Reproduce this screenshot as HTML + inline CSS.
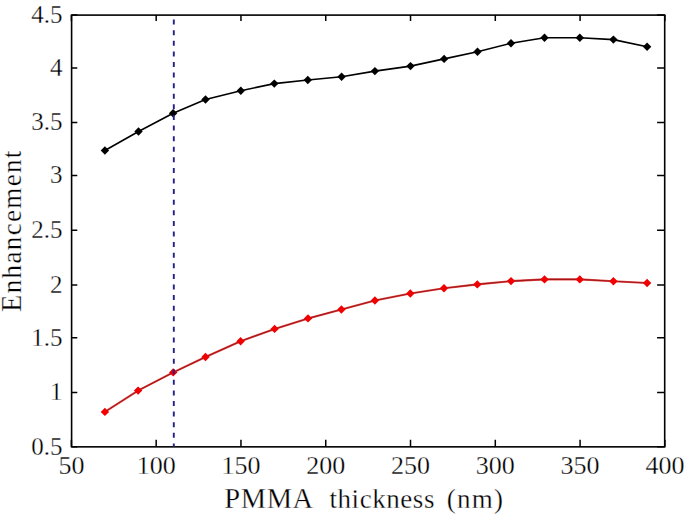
<!DOCTYPE html>
<html><head><meta charset="utf-8"><style>
html,body{margin:0;padding:0;background:#fff;}
body{width:685px;height:517px;position:relative;overflow:hidden;font-family:"Liberation Serif",serif;color:#000;}
.xt,.yt,.xl,.yl{-webkit-text-stroke:0.3px #fff;}
svg{position:absolute;left:0;top:0;}
.xt{position:absolute;top:451.6px;width:80px;text-align:center;font-size:26px;line-height:28px;}
.yt{position:absolute;left:0;width:62.6px;text-align:right;font-size:25px;line-height:28px;}
.xl{position:absolute;top:483.6px;font-size:28.5px;line-height:30px;white-space:nowrap;}
.xs{font-size:27px;}
.yl{position:absolute;font-size:27px;letter-spacing:1.35px;line-height:30px;white-space:nowrap;transform-origin:0 0;transform:rotate(-90deg);}
</style></head><body>
<svg width="685" height="517" viewBox="0 0 685 517">
<rect x="71.6" y="15.1" width="593.10" height="431.75" fill="none" stroke="#000" stroke-width="1.6"/>
<path d="M71.40 446.85V439.65M71.40 15.1V20.90M156.18 446.85V439.65M156.18 15.1V20.90M240.96 446.85V439.65M240.96 15.1V20.90M325.74 446.85V439.65M325.74 15.1V20.90M410.52 446.85V439.65M410.52 15.1V20.90M495.30 446.85V439.65M495.30 15.1V20.90M580.08 446.85V439.65M580.08 15.1V20.90M664.86 446.85V439.65M664.86 15.1V20.90M71.6 446.85H77.30M664.7 446.85H657.10M71.6 392.40H77.30M664.7 392.40H657.10M71.6 337.80H77.30M664.7 337.80H657.10M71.6 284.90H77.30M664.7 284.90H657.10M71.6 230.20H77.30M664.7 230.20H657.10M71.6 175.40H77.30M664.7 175.40H657.10M71.6 122.40H77.30M664.7 122.40H657.10M71.6 67.90H77.30M664.7 67.90H657.10M71.6 15.10H77.30M664.7 15.10H657.10" stroke="#000" stroke-width="1.5"/>
<path d="M104.90 150.50L138.50 131.50L173.10 113.20L205.50 99.50L240.80 90.70L274.30 83.60L307.80 80.00L341.60 76.70L374.90 71.10L410.50 66.10L444.10 58.90L477.50 51.80L511.00 43.20L544.50 37.70L579.80 37.70L613.40 39.60L647.10 46.80" fill="none" stroke="#000" stroke-width="1.6" stroke-linejoin="round"/>
<path d="M104.90 146.30L109.10 150.50L104.90 154.70L100.70 150.50Z" fill="#000"/><path d="M138.50 127.30L142.70 131.50L138.50 135.70L134.30 131.50Z" fill="#000"/><path d="M173.10 109.00L177.30 113.20L173.10 117.40L168.90 113.20Z" fill="#000"/><path d="M205.50 95.30L209.70 99.50L205.50 103.70L201.30 99.50Z" fill="#000"/><path d="M240.80 86.50L245.00 90.70L240.80 94.90L236.60 90.70Z" fill="#000"/><path d="M274.30 79.40L278.50 83.60L274.30 87.80L270.10 83.60Z" fill="#000"/><path d="M307.80 75.80L312.00 80.00L307.80 84.20L303.60 80.00Z" fill="#000"/><path d="M341.60 72.50L345.80 76.70L341.60 80.90L337.40 76.70Z" fill="#000"/><path d="M374.90 66.90L379.10 71.10L374.90 75.30L370.70 71.10Z" fill="#000"/><path d="M410.50 61.90L414.70 66.10L410.50 70.30L406.30 66.10Z" fill="#000"/><path d="M444.10 54.70L448.30 58.90L444.10 63.10L439.90 58.90Z" fill="#000"/><path d="M477.50 47.60L481.70 51.80L477.50 56.00L473.30 51.80Z" fill="#000"/><path d="M511.00 39.00L515.20 43.20L511.00 47.40L506.80 43.20Z" fill="#000"/><path d="M544.50 33.50L548.70 37.70L544.50 41.90L540.30 37.70Z" fill="#000"/><path d="M579.80 33.50L584.00 37.70L579.80 41.90L575.60 37.70Z" fill="#000"/><path d="M613.40 35.40L617.60 39.60L613.40 43.80L609.20 39.60Z" fill="#000"/><path d="M647.10 42.60L651.30 46.80L647.10 51.00L642.90 46.80Z" fill="#000"/>
<path d="M104.90 411.90L138.10 390.60L173.20 372.40L205.50 357.00L240.60 341.30L274.60 328.90L308.00 318.40L341.40 309.50L374.90 300.50L410.30 293.50L444.00 288.20L477.30 284.40L511.00 281.10L544.50 279.40L579.80 279.40L613.40 281.30L647.10 283.00" fill="none" stroke="#e84848" stroke-width="2.1" stroke-linejoin="round"/>
<path d="M104.90 411.90L138.10 390.60L173.20 372.40L205.50 357.00L240.60 341.30L274.60 328.90L308.00 318.40L341.40 309.50L374.90 300.50L410.30 293.50L444.00 288.20L477.30 284.40L511.00 281.10L544.50 279.40L579.80 279.40L613.40 281.30L647.10 283.00" fill="none" stroke="#a01818" stroke-width="1.1" stroke-linejoin="round"/>
<path d="M104.90 407.70L109.10 411.90L104.90 416.10L100.70 411.90Z" fill="#f00000"/><path d="M138.10 386.40L142.30 390.60L138.10 394.80L133.90 390.60Z" fill="#f00000"/><path d="M173.20 368.20L177.40 372.40L173.20 376.60L169.00 372.40Z" fill="#f00000"/><path d="M205.50 352.80L209.70 357.00L205.50 361.20L201.30 357.00Z" fill="#f00000"/><path d="M240.60 337.10L244.80 341.30L240.60 345.50L236.40 341.30Z" fill="#f00000"/><path d="M274.60 324.70L278.80 328.90L274.60 333.10L270.40 328.90Z" fill="#f00000"/><path d="M308.00 314.20L312.20 318.40L308.00 322.60L303.80 318.40Z" fill="#f00000"/><path d="M341.40 305.30L345.60 309.50L341.40 313.70L337.20 309.50Z" fill="#f00000"/><path d="M374.90 296.30L379.10 300.50L374.90 304.70L370.70 300.50Z" fill="#f00000"/><path d="M410.30 289.30L414.50 293.50L410.30 297.70L406.10 293.50Z" fill="#f00000"/><path d="M444.00 284.00L448.20 288.20L444.00 292.40L439.80 288.20Z" fill="#f00000"/><path d="M477.30 280.20L481.50 284.40L477.30 288.60L473.10 284.40Z" fill="#f00000"/><path d="M511.00 276.90L515.20 281.10L511.00 285.30L506.80 281.10Z" fill="#f00000"/><path d="M544.50 275.20L548.70 279.40L544.50 283.60L540.30 279.40Z" fill="#f00000"/><path d="M579.80 275.20L584.00 279.40L579.80 283.60L575.60 279.40Z" fill="#f00000"/><path d="M613.40 277.10L617.60 281.30L613.40 285.50L609.20 281.30Z" fill="#f00000"/><path d="M647.10 278.80L651.30 283.00L647.10 287.20L642.90 283.00Z" fill="#f00000"/>
<path d="M173.8 19.60V24.60M173.8 30.20V35.20M173.8 40.79V45.79M173.8 51.39V56.39M173.8 61.98V66.98M173.8 72.58V77.58M173.8 83.17V88.17M173.8 93.77V98.77M173.8 104.36V109.36M173.8 114.96V119.96M173.8 125.55V130.55M173.8 136.15V141.15M173.8 146.74V151.74M173.8 157.34V162.34M173.8 167.93V172.93M173.8 178.53V183.53M173.8 189.12V194.12M173.8 199.72V204.72M173.8 210.31V215.31M173.8 220.91V225.91M173.8 231.50V236.50M173.8 242.09V247.09M173.8 252.69V257.69M173.8 263.29V268.29M173.8 273.88V278.88M173.8 284.48V289.48M173.8 295.07V300.07M173.8 305.67V310.67M173.8 316.26V321.26M173.8 326.86V331.86M173.8 337.45V342.45M173.8 348.05V353.05M173.8 358.64V363.64M173.8 369.24V374.24M173.8 379.83V384.83M173.8 390.43V395.43M173.8 401.02V406.02M173.8 411.62V416.62M173.8 422.21V427.21M173.8 432.81V437.81M173.8 443.40V446.85" stroke="#24208a" stroke-width="1.9"/>
</svg>
<div class="xt" style="left:31.4px">50</div><div class="xt" style="left:116.2px">100</div><div class="xt" style="left:201.0px">150</div><div class="xt" style="left:285.7px">200</div><div class="xt" style="left:370.5px">250</div><div class="xt" style="left:455.3px">300</div><div class="xt" style="left:540.1px">350</div><div class="xt" style="left:624.9px">400</div>
<div class="yt" style="top:432.6px">0.5</div><div class="yt" style="top:378.1px">1</div><div class="yt" style="top:323.5px">1.5</div><div class="yt" style="top:270.6px">2</div><div class="yt" style="top:215.9px">2.5</div><div class="yt" style="top:161.1px">3</div><div class="yt" style="top:108.1px">3.5</div><div class="yt" style="top:53.6px">4</div><div class="yt" style="top:0.8px">4.5</div>
<div class="xl" style="left:224.2px;letter-spacing:0.63px">PMMA</div><div class="xl xs" style="left:329.5px;letter-spacing:0.55px">thickness</div><div class="xl xs" style="left:446.8px;letter-spacing:1.25px">(nm)</div>
<div class="yl" style="left:-2.6px;top:311.9px;"><span style="font-size:28.5px">E</span>nhancement</div>
</body></html>
